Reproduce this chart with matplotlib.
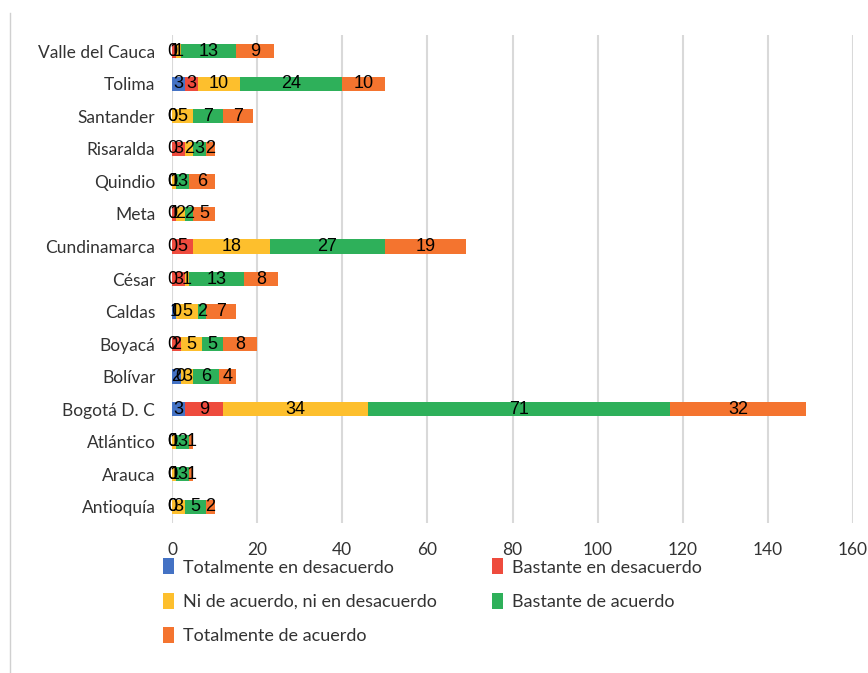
import matplotlib.pyplot as plt
from matplotlib.lines import Line2D
import numpy as np

# categories, bottom to top
regiones = ["Antioquía", "Arauca", "Atlántico", "Bogotá D. C", "Bolívar", "Boyacá",
            "Caldas", "César", "Cundinamarca", "Meta", "Quindio", "Risaralda",
            "Santander", "Tolima", "Valle del Cauca"]

tot_desacuerdo = [0, 0, 0, 3, 2, 0, 1, 0, 0, 0, 0, 0, 0, 3, 0]
bast_desacuerdo = [0, 0, 0, 9, 0, 2, 0, 3, 5, 1, 0, 3, 0, 3, 1]
ni_ni = [3, 1, 1, 34, 3, 5, 5, 1, 18, 2, 1, 2, 5, 10, 1]
bast_acuerdo = [5, 3, 3, 71, 6, 5, 2, 13, 27, 2, 3, 3, 7, 24, 13]
tot_acuerdo = [2, 1, 1, 32, 4, 8, 7, 8, 19, 5, 6, 2, 7, 10, 9]

series = [
    ("Totalmente en desacuerdo", tot_desacuerdo, "#4472c4"),
    ("Bastante en desacuerdo", bast_desacuerdo, "#ee4b3d"),
    ("Ni de acuerdo, ni en desacuerdo", ni_ni, "#fdbf2d"),
    ("Bastante de acuerdo", bast_acuerdo, "#2eb05a"),
    ("Totalmente de acuerdo", tot_acuerdo, "#f4742f"),
]

label_font = ["Lato", "DejaVu Sans"]

fig = plt.figure(figsize=(8.68, 6.73), dpi=100)
ax = fig.add_axes([172 / 868, 150 / 673, 681 / 868, 488 / 673])

y = np.arange(len(regiones))
left = np.zeros(len(regiones))
handles = []
for name, vals, color in series:
    bars = ax.barh(y, vals, left=left, height=0.44, color=color, label=name, zorder=3)
    ax.bar_label(bars, labels=[str(v) for v in vals], label_type="center",
                 fontsize=13, color="black", family="Liberation Sans", zorder=4)
    left += np.array(vals)
    handles.append(bars)

ax.set_xlim(0, 160)
ax.set_ylim(-0.5, len(regiones) - 0.5)
ax.set_xticks(np.arange(0, 161, 20))
ax.set_yticks(y)
ax.set_yticklabels(regiones, family=label_font, fontsize=12.5, color="#333333")
for t in ax.get_xticklabels():
    t.set_family(label_font)
    t.set_fontsize(12.5)
    t.set_color("#333333")
ax.tick_params(axis="x", length=0, pad=14)
ax.tick_params(axis="y", length=0, pad=12)
ax.grid(axis="x", color="#d9d9d9", linewidth=1.5, zorder=0)
for s in ax.spines.values():
    s.set_visible(False)

order = [0, 2, 4, 1, 3]
fig.legend([handles[i] for i in order], [series[i][0] for i in order],
           loc="upper left", bbox_to_anchor=(147 / 868, 1 - 542 / 673), ncol=2,
           frameon=False, prop={"family": label_font, "size": 13},
           handlelength=0.6, handleheight=1.0, handletextpad=0.5,
           labelspacing=0.95, columnspacing=3.05, labelcolor="#333333")

# thin border line at the left
fig.add_artist(Line2D([10 / 868, 10 / 868], [0, 1 - 13 / 673], color="#d0d0d0", linewidth=1))

fig.savefig("out.png", dpi=100)
